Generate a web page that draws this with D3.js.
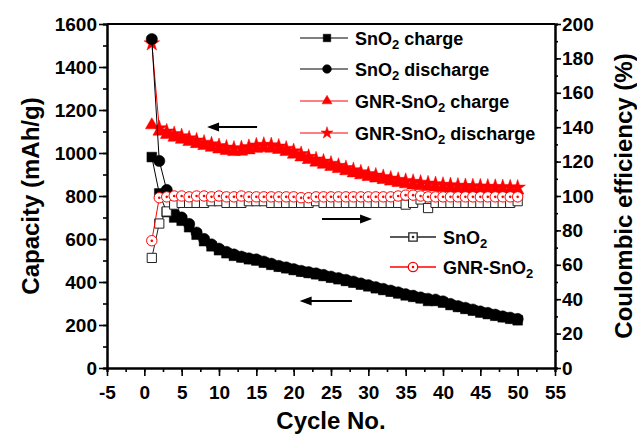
<!DOCTYPE html>
<html>
<head>
<meta charset="utf-8">
<script src="https://cdn.jsdelivr.net/npm/d3@7"></script>
<style>
  body { margin: 0; background: #fff; }
  svg { font-family: "Liberation Sans", Arial, sans-serif; font-weight: bold; }
</style>
</head>
<body>
<svg width="637" height="435"></svg>
<script>
const cycles = d3.range(1, 51);

const sno2Charge = [981, 812, 725, 700, 685, 655, 620, 590, 566, 548,
  534, 522, 514, 506, 500, 490, 480, 471, 464, 456,
  448, 442, 436, 428, 420, 413, 405, 397, 388, 380,
  371, 363, 355, 347, 338, 331, 324, 312, 312, 304,
  293, 284, 275, 267, 258, 251, 243, 236, 229, 222];
const sno2Discharge = [1530, 963, 828, 720, 700, 670, 630, 600, 575, 555,
  540, 528, 518, 510, 505, 495, 485, 475, 468, 460,
  452, 446, 440, 433, 425, 418, 410, 402, 393, 385,
  376, 368, 360, 352, 343, 336, 328, 322, 318, 310,
  298, 288, 280, 272, 263, 256, 248, 240, 234, 228];
const gnrCharge = [1130, 1100, 1085, 1072, 1062, 1052, 1042, 1033, 1025, 1017,
  1010, 1005, 1007, 1013, 1020, 1023, 1021, 1015, 1005, 993,
  980, 968, 956, 946, 936, 926, 916, 906, 897, 889,
  882, 875, 868, 861, 855, 850, 846, 843, 840, 838,
  836, 834, 833, 832, 831, 830, 829, 828, 827, 826];
const gnrDischarge = [1510, 1115, 1100, 1088, 1078, 1068, 1058, 1048, 1040, 1032,
  1025, 1020, 1022, 1028, 1035, 1038, 1036, 1030, 1020, 1008,
  995, 982, 970, 960, 950, 940, 930, 920, 910, 902,
  895, 888, 881, 875, 870, 866, 862, 858, 855, 852,
  850, 848, 846, 845, 844, 843, 842, 841, 840, 839];
const sno2CE = [64, 84, 91, 95, 96, 96, 96, 96, 97, 97,
  96, 96, 96, 97, 97, 97, 96, 96, 96, 96,
  96, 96, 97, 96, 96, 96, 96, 96, 96, 96,
  96, 96, 96, 96, 95, 96, 98, 93, 96, 96,
  96, 96, 96, 96, 96, 96, 96, 96, 96, 97];
const gnrCE = [74, 99, 99.5, 100, 100, 99.5, 100, 100, 99.5, 100,
  99.5, 99.5, 100, 99.5, 99.5, 99.5, 99.5, 99.5, 99.5, 99.5,
  99, 99, 99.5, 99.5, 99.5, 99.5, 99.5, 99.5, 99.5, 99.5,
  99.5, 99.5, 99.5, 100, 100.5, 100.5, 100, 99.5, 99.5, 99.5,
  99.5, 99.5, 99.5, 99.5, 99.5, 99.5, 99.5, 99.5, 99.5, 99.5];

const xTicks = d3.range(-5, 56, 5);
const capTicks = d3.range(0, 1601, 200);
const ceTicks = d3.range(0, 201, 20);

const svg = d3.select("svg");
const x = d3.scaleLinear().domain([-5, 55]).range([107, 555]);
const yCap = d3.scaleLinear().domain([0, 1600]).range([368, 24]);
const yCE = d3.scaleLinear().domain([0, 200]).range([368, 24]);

const red = "#ff0000";
const plain = d => String(d);

// axes: minor ticks first, then major with labels
function styleAxis(g) {
  g.select(".domain").attr("stroke-width", 2);
  g.selectAll(".tick line").attr("stroke-width", 1.6);
  g.selectAll("text").style("font-size", "19px").attr("fill", "#000");
}
svg.append("g").attr("transform", "translate(0,368)")
  .call(d3.axisBottom(x).tickValues(d3.range(-5, 55.1, 2.5)).tickSize(4).tickFormat(""))
  .call(styleAxis);
svg.append("g").attr("transform", "translate(0,368)")
  .call(d3.axisBottom(x).tickValues(xTicks).tickSize(8).tickPadding(10).tickSizeOuter(0).tickFormat(plain))
  .call(styleAxis);
svg.append("g").attr("transform", "translate(107,0)")
  .call(d3.axisLeft(yCap).tickValues(d3.range(0, 1601, 100)).tickSize(4).tickFormat(""))
  .call(styleAxis);
svg.append("g").attr("transform", "translate(107,0)")
  .call(d3.axisLeft(yCap).tickValues(capTicks).tickSize(8).tickPadding(2).tickSizeOuter(0).tickFormat(plain))
  .call(styleAxis);
svg.append("g").attr("transform", "translate(555,0)")
  .call(d3.axisRight(yCE).tickValues(d3.range(0, 201, 10)).tickSize(3).tickFormat(""))
  .call(styleAxis);
svg.append("g").attr("transform", "translate(555,0)")
  .call(d3.axisRight(yCE).tickValues(ceTicks).tickSize(6).tickPadding(1).tickSizeOuter(0).tickFormat(plain))
  .call(styleAxis);
svg.append("line")
  .attr("x1", 107).attr("x2", 555).attr("y1", 24).attr("y2", 24)
  .attr("stroke", "#000").attr("stroke-width", 2);

// axis titles
svg.append("text")
  .attr("transform", "translate(39,196) rotate(-90)")
  .attr("text-anchor", "middle")
  .style("font-size", "24px")
  .text("Capacity (mAh/g)");
svg.append("text")
  .attr("transform", "translate(632,196) rotate(-90)")
  .attr("text-anchor", "middle")
  .style("font-size", "24px")
  .text("Coulombic efficiency (%)");
svg.append("text")
  .attr("x", 331).attr("y", 429)
  .attr("text-anchor", "middle")
  .style("font-size", "24px")
  .text("Cycle No.");

// series
const series = [
  { name: "GNR-SnO2 charge", vals: gnrCharge, y: yCap, color: red, shape: d3.symbolTriangle, size: 70, fill: red },
  { name: "GNR-SnO2 discharge", vals: gnrDischarge, y: yCap, color: red, shape: d3.symbolStar, size: 75, fill: red },
  { name: "SnO2 charge", vals: sno2Charge, y: yCap, color: "#000", shape: d3.symbolSquare, size: 95, fill: "#000" },
  { name: "SnO2 discharge", vals: sno2Discharge, y: yCap, color: "#000", shape: d3.symbolCircle, size: 100, fill: "#000" },
  { name: "SnO2", vals: sno2CE, y: yCE, color: "#222", shape: d3.symbolSquare, size: 85, fill: "#fff" },
  { name: "GNR-SnO2", vals: gnrCE, y: yCE, color: red, shape: d3.symbolCircle, size: 85, fill: "#fff", dot: true }
];

series.forEach(s => {
  const pts = cycles.map((c, i) => [c, s.vals[i]]);
  svg.append("path")
    .datum(pts)
    .attr("fill", "none")
    .attr("stroke", s.color)
    .attr("stroke-width", 1)
    .attr("d", d3.line().x(d => x(d[0])).y(d => s.y(d[1])));
  const g = svg.append("g");
  g.selectAll("path")
    .data(pts)
    .join("path")
    .attr("transform", d => `translate(${x(d[0])},${s.y(d[1])})`)
    .attr("d", d3.symbol(s.shape, s.size))
    .attr("fill", s.fill)
    .attr("stroke", s.color)
    .attr("stroke-width", s.fill === "#fff" ? 1 : 0.5);
  if (s.dot) {
    g.selectAll("circle")
      .data(pts)
      .join("circle")
      .attr("cx", d => x(d[0]))
      .attr("cy", d => s.y(d[1]))
      .attr("r", 1.3)
      .attr("fill", s.color);
  }
});

// arrows
const arrows = [
  { x1: 15.1, x2: 8.4, y: yCap, v: 1121 },
  { x1: 23.8, x2: 30.5, y: yCE, v: 86.6 },
  { x1: 27.8, x2: 20.8, y: yCap, v: 312 }
];
arrows.forEach(a => {
  const x1 = x(a.x1), x2 = x(a.x2), yy = a.y(a.v);
  const dir = x2 > x1 ? 1 : -1;
  svg.append("line")
    .attr("x1", x1).attr("x2", x2 - dir * 8).attr("y1", yy).attr("y2", yy)
    .attr("stroke", "#000").attr("stroke-width", 2);
  svg.append("path")
    .attr("d", `M${x2},${yy} L${x2 - dir * 12},${yy - 4.5} L${x2 - dir * 12},${yy + 4.5} Z`)
    .attr("fill", "#000");
});

// legends
function legendLabel(g, label) {
  const t = g.append("text").attr("x", 55).attr("y", 7).style("font-size", "18px");
  const parts = label.split("2");
  t.append("tspan").text(parts[0]);
  t.append("tspan").attr("dy", 4).style("font-size", "13px").text("2");
  t.append("tspan").attr("dy", -4).text(parts[1]);
}
const legend1 = [series[2], series[3], series[0], series[1]];
const leg1Y = [38, 69, 101, 133];
legend1.forEach((s, i) => {
  const g = svg.append("g").attr("transform", `translate(300,${leg1Y[i]})`);
  g.append("line").attr("x1", 0).attr("x2", 48).attr("y1", 0).attr("y2", 0)
    .attr("stroke", s.color).attr("stroke-width", 1);
  g.append("path").attr("transform", "translate(27,0)")
    .attr("d", d3.symbol(s.shape, s.size * 0.6))
    .attr("fill", s.fill).attr("stroke", s.color).attr("stroke-width", 0.5);
  legendLabel(g, s.name);
});
const legend2 = [series[4], series[5]];
const leg2Y = [237, 267];
legend2.forEach((s, i) => {
  const g = svg.append("g").attr("transform", `translate(390,${leg2Y[i]})`);
  g.append("line").attr("x1", 0).attr("x2", 46).attr("y1", 0).attr("y2", 0)
    .attr("stroke", s.color).attr("stroke-width", 1.5);
  g.append("path").attr("transform", "translate(23,0)")
    .attr("d", d3.symbol(s.shape, 70))
    .attr("fill", "#fff").attr("stroke", s.color).attr("stroke-width", 1.3);
  g.append("circle").attr("cx", 23).attr("cy", 0).attr("r", 1.3).attr("fill", s.color);
  const t = g.append("text").attr("x", 53).attr("y", 7).style("font-size", "18px");
  const parts = s.name.split("2");
  t.append("tspan").text(parts[0]);
  t.append("tspan").attr("dy", 4).style("font-size", "13px").text("2");
});
</script>
</body>
</html>
